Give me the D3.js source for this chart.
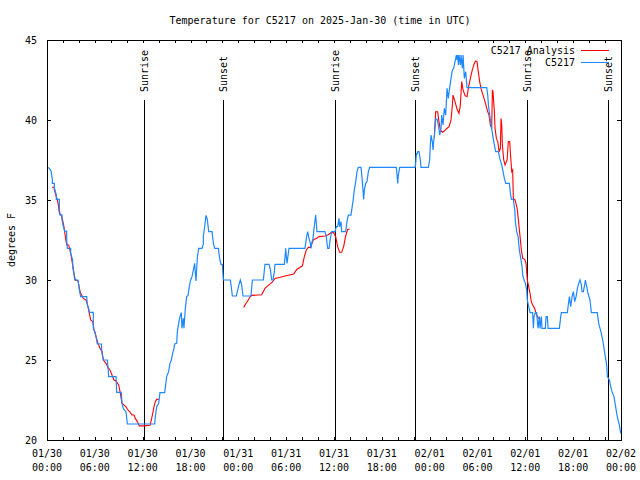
<!DOCTYPE html>
<html>
<head>
<meta charset="utf-8">
<script src="https://cdn.jsdelivr.net/npm/d3@7"></script>
<style>
  html, body { margin: 0; padding: 0; background: #fff; }
  svg { display: block; }
  text { font-family: "DejaVu Sans Mono", "Liberation Mono", monospace; font-size: 10px; fill: #000; }
</style>
</head>
<body>
<svg id="chart" width="640" height="480"></svg>
<script>
// ---------------- DATA (hours since 2025-01-30 00:00 UTC, degrees F) ----------------
const titleText = "Temperature for C5217 on 2025-Jan-30 (time in UTC)";
const yLabel = "degrees F";
const seriesNames = ["C5217 Analysis", "C5217"];
const yTickValues = [20, 25, 30, 35, 40, 45];

// Sun events (hours since start)
const sunLabels = ["Sunrise", "Sunset", "Sunrise", "Sunset", "Sunrise", "Sunset"];
const sunHours  = [12.17, 22.12, 36.15, 46.22, 60.23, 70.32];

// Observations (C5217)
const obsHours = [
 0.17,0.50,0.67,0.67,0.92,0.92,1.17,1.17,1.55,1.55,1.63,1.88,1.88,2.05,2.22,2.47,2.47,2.55,2.97,2.97,
 3.22,3.22,3.39,3.47,3.89,4.06,4.22,4.98,5.06,5.23,5.31,5.81,5.81,6.06,6.31,6.82,6.90,7.07,7.57,7.65,
 7.74,8.66,8.74,9.32,9.41,9.58,9.91,10.08,13.51,13.59,13.76,14.01,14.17,14.76,14.84,15.01,15.26,15.43,15.60,15.76,
 15.93,16.01,16.27,16.35,16.52,16.68,16.85,16.93,17.10,17.18,17.35,17.52,17.69,17.85,18.02,18.19,18.36,18.52,18.61,18.69,
 18.86,19.03,19.44,19.61,19.61,19.78,19.94,20.11,20.28,20.70,20.87,21.04,21.49,21.66,21.82,21.99,22.12,23.00,23.16,23.25,
 23.75,23.92,24.08,24.25,24.42,24.58,25.59,25.76,27.14,27.34,27.85,28.02,28.19,28.35,28.52,28.60,29.77,29.86,29.94,30.02,
 30.11,30.27,30.36,32.36,32.53,32.70,32.87,33.03,33.12,33.20,33.37,33.45,33.70,33.87,34.87,35.04,35.12,35.21,35.38,35.54,
 35.71,36.13,36.29,36.46,36.63,36.71,36.88,36.96,37.46,37.63,37.80,38.13,38.22,38.38,38.55,38.72,38.89,39.05,39.39,39.56,
 39.72,39.81,39.97,40.14,40.31,40.47,43.82,43.91,43.99,44.07,44.24,46.16,46.25,46.33,46.37,46.50,46.66,46.83,46.92,47.83,
 48.00,48.08,48.17,48.33,48.42,48.50,48.59,48.67,48.75,48.92,49.09,49.26,49.42,49.51,49.67,49.84,50.01,50.18,50.34,50.51,
 50.68,50.85,51.01,51.18,51.35,51.43,51.52,51.60,51.68,51.85,51.93,52.10,52.19,52.35,52.52,52.69,55.16,55.28,55.37,55.53,
 55.70,55.87,56.04,56.20,56.29,56.62,56.79,57.04,57.21,57.37,57.54,57.99,58.16,58.25,58.50,58.67,58.75,58.92,59.09,59.25,
 59.42,59.59,59.67,59.84,60.01,60.17,60.25,60.42,60.59,60.92,61.01,61.09,61.26,61.42,61.59,61.76,61.84,62.01,62.09,62.51,
 62.60,62.76,62.85,63.02,64.27,64.44,64.52,65.27,65.44,65.53,65.69,65.86,66.03,66.19,66.36,66.53,66.69,66.86,67.03,67.11,
 67.28,67.44,67.53,67.70,67.86,68.11,68.28,69.03,69.20,69.37,69.53,69.70,69.87,70.03,70.20,70.29,70.54,70.71,70.87,71.12,
 71.29,71.46,71.63,71.79,71.96
];
const obsTemps = [
 37.04,36.83,36.29,36.04,36.04,35.77,35.31,35.04,35.04,34.48,34.06,34.06,33.75,33.33,33.06,33.06,32.50,31.98,31.98,31.67,
 31.25,30.83,30.35,30.00,30.00,29.38,28.96,28.96,28.44,28.23,27.98,27.98,26.98,26.71,26.00,26.00,25.42,25.00,25.00,24.54,
 23.96,23.96,22.98,22.98,22.29,21.96,21.75,21.00,21.00,21.46,22.08,22.29,22.96,22.96,23.29,23.96,24.27,24.79,25.00,25.42,
 25.73,26.00,26.04,26.77,27.29,27.71,27.96,26.98,27.60,26.98,28.23,28.96,29.04,29.58,30.00,30.21,30.63,31.04,30.42,29.94,
 31.42,31.98,31.98,32.25,32.75,33.33,34.04,33.79,33.02,33.02,32.29,31.98,31.98,31.35,30.98,30.98,30.00,30.00,29.38,29.00,
 29.00,29.38,29.69,30.00,29.69,29.00,29.00,30.00,30.00,30.98,30.98,30.63,30.00,30.00,30.52,30.98,30.98,31.46,31.98,31.46,
 31.04,31.67,31.98,31.98,32.60,33.02,32.60,32.29,31.98,32.29,32.60,33.02,34.06,33.02,33.02,32.71,32.29,31.98,31.98,32.60,
 33.02,33.02,33.33,33.33,33.85,33.33,33.65,33.02,33.02,33.65,34.06,34.06,34.38,34.90,35.63,36.15,36.77,37.04,37.04,36.15,
 35.04,35.63,36.04,36.15,36.77,37.04,37.04,36.56,36.04,36.56,37.04,37.04,37.29,37.92,37.81,38.02,38.02,37.50,37.04,37.04,
 37.50,38.44,39.06,38.65,38.13,38.65,39.06,39.58,40.06,40.06,39.69,39.06,39.48,40.31,39.69,40.73,40.31,41.98,41.35,42.02,
 42.60,43.13,43.23,43.65,44.06,43.75,44.06,43.44,44.06,43.44,44.06,43.23,44.06,42.60,43.02,42.02,42.02,41.56,40.94,40.31,
 39.69,39.17,38.65,38.23,38.02,38.02,37.60,37.19,36.77,36.35,36.04,36.04,35.31,35.04,35.04,34.38,33.65,33.02,32.71,31.88,
 31.35,30.83,30.31,30.00,29.79,29.38,28.75,28.33,27.96,27.96,26.98,27.71,27.96,27.96,26.98,27.71,26.98,27.71,26.98,26.98,
 27.71,27.71,26.98,26.98,26.98,27.71,27.96,27.96,28.65,28.96,28.33,28.96,29.27,28.65,28.96,29.48,29.79,30.00,29.69,29.27,
 29.27,29.69,30.00,29.58,29.17,28.75,27.96,27.96,27.29,26.98,26.67,26.25,25.73,25.21,24.69,23.96,23.75,23.33,23.02,22.71,
 22.19,21.67,21.25,20.94,20.42
];

// Analysis (C5217 Analysis)
const anaHours = [
 0.67,0.92,0.92,1.30,1.42,1.55,1.80,1.96,2.13,2.30,2.47,2.72,2.97,3.22,3.39,3.56,3.89,4.06,4.22,4.56,
 4.89,5.06,5.31,5.48,5.73,5.90,6.15,6.40,6.65,6.90,7.07,7.40,7.65,7.90,8.15,8.40,8.66,8.99,9.16,9.41,
 9.58,9.91,10.08,10.41,10.66,10.91,11.08,11.33,11.58,12.17,12.92,13.09,13.26,13.42,13.59,13.76,14.01,
 null,
 24.67,24.92,25.25,25.42,25.67,26.93,27.34,27.68,28.19,28.60,29.27,29.86,30.95,31.36,31.87,32.03,32.28,32.53,32.78,33.03,
 33.45,33.79,34.12,34.87,35.29,35.63,35.96,36.21,36.46,36.71,36.96,37.21,37.46,37.72,37.97,
 null,
 48.59,48.75,49.00,49.17,49.34,49.59,49.84,50.09,50.43,50.68,50.85,50.93,51.18,51.43,51.68,51.85,52.02,52.19,52.44,52.69,
 52.85,53.10,53.35,53.60,53.77,53.94,54.10,54.27,54.44,54.69,54.94,55.11,55.28,55.44,55.61,55.78,55.87,55.95,56.04,56.12,
 56.20,56.37,56.54,56.71,56.87,56.95,57.04,57.12,57.29,57.46,57.71,57.87,58.04,58.12,58.29,58.41,58.50,58.67,58.83,59.00,
 59.17,59.34,59.50,59.67,59.92,60.09,60.25,60.42,60.59,60.75,60.92,61.17,61.34,61.51,61.67,61.92
];
const anaTemps = [
 35.79,35.79,35.63,35.00,34.69,34.17,34.06,33.75,33.33,32.71,32.19,32.19,31.67,30.94,30.42,30.00,29.96,29.48,29.17,28.85,
 28.75,28.50,27.92,27.50,27.40,26.88,26.46,26.04,25.73,25.52,25.00,24.79,24.54,24.38,24.06,23.75,23.69,23.44,23.02,22.29,
 22.23,22.08,21.92,21.75,21.56,21.56,21.35,21.15,20.88,20.88,20.92,21.25,21.67,22.08,22.40,22.54,22.54,
 null,
 28.29,28.50,28.75,28.92,29.04,29.08,29.48,29.63,29.83,30.10,30.17,30.25,30.38,30.67,30.83,30.88,31.46,31.88,32.04,32.04,
 32.54,32.60,32.71,32.75,32.83,32.96,32.96,32.71,32.08,31.73,31.73,32.08,32.75,33.17,33.17,
 null,
 38.90,40.52,40.52,39.90,39.38,39.23,39.31,39.44,39.58,40.00,40.94,41.56,41.15,40.69,40.42,40.94,42.40,41.88,41.52,41.46,
 41.98,42.60,43.13,43.54,43.69,43.65,43.02,42.40,41.98,41.56,41.15,40.83,40.52,40.31,39.69,39.48,41.88,41.77,41.04,40.52,
 39.48,38.85,38.65,38.02,38.23,40.10,39.69,38.44,37.50,37.19,37.50,38.65,38.65,38.02,36.77,36.88,35.04,35.04,34.79,34.38,
 33.54,32.71,31.88,31.35,31.29,31.04,30.00,29.58,29.17,28.65,28.44,28.23,27.92,27.71,27.60,27.54
];

// ---------------- CHART ----------------
const start = Date.UTC(2025, 0, 30, 0, 0);
const toDate = h => new Date(start + h * 3600e3);

const svg = d3.select("#chart");
const L = 47, R = 621, T = 40, B = 440;

const x = d3.scaleUtc().domain([toDate(0), toDate(72)]).range([L, R]);
const y = d3.scaleLinear().domain([20, 45]).range([B, T]);

const px = v => Math.round(v) + 0.5;

// Title
svg.append("text").attr("x", 320).attr("y", 24).attr("text-anchor", "middle").text(titleText);

// Y label
svg.append("text")
  .attr("transform", "translate(15,240) rotate(-90)")
  .attr("text-anchor", "middle").text(yLabel);

// Axes via d3 (ticks inward)
const minorTicks = d3.utcHour.every(2).range(toDate(0), toDate(72.01));
const majorTicks = d3.utcHour.every(6).range(toDate(0), toDate(72.01));

const xBottom = svg.append("g").attr("transform", `translate(0,${B})`)
  .call(d3.axisBottom(x).tickValues(minorTicks).tickSizeInner(-3).tickSizeOuter(0).tickFormat(""));
const xTop = svg.append("g").attr("transform", `translate(0,${T})`)
  .call(d3.axisTop(x).tickValues(minorTicks).tickSizeInner(-3).tickSizeOuter(0).tickFormat(""));
const yLeft = svg.append("g").attr("transform", `translate(${L},0)`)
  .call(d3.axisLeft(y).tickValues(yTickValues).tickSizeInner(-4).tickSizeOuter(0).tickFormat(""));
const yRight = svg.append("g").attr("transform", `translate(${R},0)`)
  .call(d3.axisRight(y).tickValues(yTickValues).tickSizeInner(-4).tickSizeOuter(0).tickFormat(""));
[xBottom, xTop, yLeft, yRight].forEach(g => {
  g.select(".domain").remove();
  g.selectAll("line").attr("stroke", "#000").attr("shape-rendering", "crispEdges");
});

// X tick labels (two lines)
const fmtD = d3.utcFormat("%m/%d"), fmtT = d3.utcFormat("%H:%M");
const xl = svg.append("g");
majorTicks.forEach(d => {
  xl.append("text").attr("x", x(d)).attr("y", 457).attr("text-anchor", "middle").text(fmtD(d));
  xl.append("text").attr("x", x(d)).attr("y", 471).attr("text-anchor", "middle").text(fmtT(d));
});

// Y tick labels
yTickValues.forEach(v => {
  svg.append("text").attr("x", 37).attr("y", y(v)).attr("dy", "0.35em")
    .attr("text-anchor", "end").text(v);
});

// Frame
svg.append("rect").attr("x", L + 0.5).attr("y", T + 0.5)
  .attr("width", R - L).attr("height", B - T)
  .attr("fill", "none").attr("stroke", "#000").attr("shape-rendering", "crispEdges");

// Sun lines
sunHours.forEach((h, i) => {
  const xx = px(x(toDate(h)));
  svg.append("line").attr("x1", xx).attr("x2", xx).attr("y1", 100).attr("y2", B)
    .attr("stroke", "#000").attr("stroke-width", 1).attr("shape-rendering", "crispEdges");
  svg.append("text").attr("transform", `translate(${xx + 3.5},92) rotate(-90)`)
    .attr("text-anchor", "start").text(sunLabels[i]);
});

// Lines
const mk = (hs, ts) => hs.map((h, i) => ({ h, t: ts[i] }));
const line = d3.line()
  .defined(d => d.h !== null && d.t !== null)
  .x(d => x(toDate(d.h))).y(d => y(d.t));

svg.append("path").datum(mk(anaHours, anaTemps))
  .attr("d", line).attr("fill", "none").attr("stroke", "#ff0000").attr("stroke-width", 1.1);
svg.append("path").datum(mk(obsHours, obsTemps))
  .attr("d", line).attr("fill", "none").attr("stroke", "#1e88ff").attr("stroke-width", 1.2);

// Legend
const legend = svg.append("g");
const legColors = ["#ff0000", "#1e88ff"];
const legY = [50, 62];
seriesNames.forEach((n, i) => {
  legend.append("text").attr("x", 575).attr("y", legY[i] + 4).attr("text-anchor", "end").text(n);
  legend.append("line").attr("x1", 581).attr("x2", 609).attr("y1", legY[i] + 0.5).attr("y2", legY[i] + 0.5)
    .attr("stroke", legColors[i]).attr("stroke-width", 1).attr("shape-rendering", "crispEdges");
});
</script>
</body>
</html>
